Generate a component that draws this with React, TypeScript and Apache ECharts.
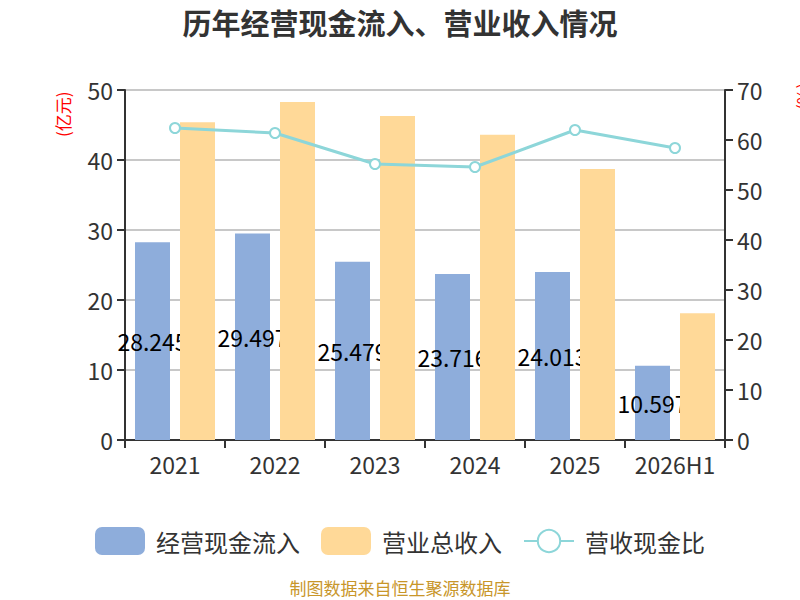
import React, { useEffect, useRef } from "react";
import * as echarts from "echarts";

const categories = ["2021", "2022", "2023", "2024", "2025", "2026H1"];
const cashInflow = [28.245, 29.497, 25.479, 23.716, 24.013, 10.597];
const revenue = [45.4, 48.3, 46.3, 43.6, 38.7, 18.1];
const ratio = [62.4, 61.4, 55.2, 54.6, 62.0, 58.4];

const FONT = "'Noto Sans CJK SC', 'Noto Sans', sans-serif";

export default function App() {
  const ref = useRef<HTMLDivElement>(null);
  useEffect(() => {
    if (!ref.current) return;
    const chart = echarts.init(ref.current, undefined, { renderer: "svg" });
    chart.setOption({
      animation: false,
      textStyle: { fontFamily: FONT },
      title: {
        text: "历年经营现金流入、营业收入情况",
        left: "center",
        top: 2,
        textStyle: { fontSize: 29, fontWeight: "bold", color: "#333", fontFamily: FONT },
      },
      legend: {
        top: 522,
        left: "center",
        itemWidth: 50,
        itemHeight: 28,
        itemGap: 21,
        textStyle: { fontSize: 24, color: "#333", fontFamily: FONT, padding: [0, 0, 0, 6] },
        data: [
          { name: "经营现金流入", icon: "roundRect" },
          { name: "营业总收入", icon: "roundRect" },
          { name: "营收现金比" },
        ],
      },
      graphic: [
        {
          type: "text",
          left: "center",
          top: 579,
          style: {
            text: "制图数据来自恒生聚源数据库",
            fill: "#c8962a",
            fontSize: 17,
            fontFamily: FONT,
          },
        },
        {
          type: "text",
          x: 54,
          y: 137,
          rotation: Math.PI / 2,
          style: {
            text: "(亿元)",
            fill: "red",
            fontSize: 17,
            fontFamily: FONT,
          },
        },
        {
          type: "text",
          x: 794,
          y: 110,
          rotation: Math.PI / 2,
          style: {
            text: "(%)",
            fill: "red",
            fontSize: 17,
            fontFamily: FONT,
          },
        },
      ],
      grid: { left: 125, right: 75, top: 90, bottom: 160 },
      xAxis: {
        type: "category",
        data: categories,
        axisLine: { lineStyle: { color: "#333", width: 2 } },
        axisTick: { show: true, length: 8, lineStyle: { color: "#333", width: 2 } },
        axisLabel: { fontSize: 23, color: "#333", margin: 12, interval: 0 },
      },
      yAxis: [
        {
          type: "value",
          min: 0,
          max: 50,
          interval: 10,
          axisLine: { show: true, lineStyle: { color: "#333", width: 2 } },
          axisTick: { show: true, length: 8, lineStyle: { color: "#333", width: 2 } },
          axisLabel: { fontSize: 23, color: "#333", margin: 12 },
          splitLine: { lineStyle: { color: "#c8c8c8", width: 2 } },
        },
        {
          type: "value",
          min: 0,
          max: 70,
          interval: 10,
          axisLine: { show: true, lineStyle: { color: "#333", width: 2 } },
          axisTick: { show: true, length: 8, lineStyle: { color: "#333", width: 2 } },
          axisLabel: { fontSize: 23, color: "#333", margin: 12 },
          splitLine: { show: false },
        },
      ],
      series: [
        {
          name: "经营现金流入",
          type: "bar",
          data: cashInflow,
          barWidth: "35%",
          barGap: "28.6%",
          z: 2,
          itemStyle: { color: "#8eaddb" },
          label: {
            show: true,
            position: "inside",
            color: "#000",
            fontSize: 23,
            formatter: (p: any) => p.value.toFixed(3),
          },
        },
        {
          name: "营业总收入",
          type: "bar",
          data: revenue,
          barWidth: "35%",
          z: 3,
          itemStyle: { color: "#ffd998" },
        },
        {
          name: "营收现金比",
          type: "line",
          yAxisIndex: 1,
          data: ratio,
          symbol: "circle",
          symbolSize: 10,
          lineStyle: { color: "#8dd6d9", width: 3 },
          itemStyle: { color: "#fff", borderColor: "#8dd6d9", borderWidth: 2 },
          z: 5,
        },
      ],
    });
    return () => chart.dispose();
  }, []);
  return (
    <div
      ref={ref}
      style={{ position: "absolute", left: 0, top: 0, width: 800, height: 600 }}
    />
  );
}
